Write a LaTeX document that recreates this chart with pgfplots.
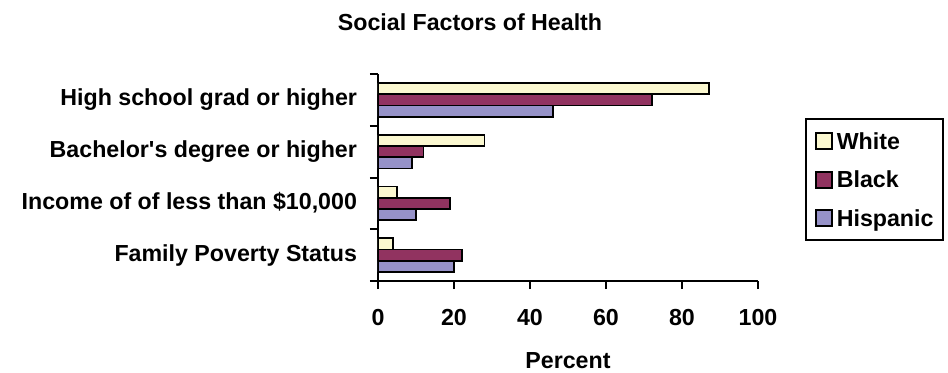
\documentclass[border=0pt]{standalone}
\usepackage{fontspec}
\setmainfont{Liberation Sans}
% separate family without TeX ligatures, so that ' stays a straight quote
\newfontfamily\arialfont{Liberation Sans}
\usepackage{pgfplots}
\pgfplotsset{compat=1.18}
\definecolor{cWhite}{HTML}{FBF8D0}
\definecolor{cBlack}{HTML}{913360}
\definecolor{cHisp}{HTML}{9692C8}
\newcommand\lbl{\arialfont\fontsize{11.6}{13.9}\selectfont\bfseries}

\begin{document}
\begin{tikzpicture}[x=1pt,y=1pt]
\useasboundingbox (0,0) rectangle (474,186);
\node[anchor=base, font=\lbl] at (235,171) {Social Factors of Health};
\begin{axis}[
  at={(189pt,45.5pt)}, anchor=south west,
  scale only axis, width=190pt, height=103.5pt,
  xbar, bar width=5.6pt,
  xmin=0, xmax=100, ymin=-0.5, ymax=3.5,
  axis x line*=bottom, axis y line*=left,
  axis line style={-, line width=1pt, black},
  /pgf/number format/assume math mode=true,
  tick label style={font=\lbl},
  xtick={0,20,...,100},
  tick align=outside, major tick length=4pt,
  tick style={line width=1pt, black},
  xticklabel style={anchor=base, yshift=-18pt},
  ytick={-0.5,0.5,1.5,2.5,3.5}, yticklabels={},
  extra y ticks={0,1,2,3},
  extra y tick labels={Family Poverty Status,{Income of of less than \$10,000},Bachelor's degree or higher,High school grad or higher},
  extra y tick style={major tick length=0pt,
    yticklabel style={anchor=base east, yshift=-2.95pt, xshift=-7pt}},
  xlabel={Percent},
  xlabel style={at={(rel axis cs:0.5,0)}, anchor=base, yshift=-43.5pt, font=\lbl},
  legend image code/.code={\draw[#1, line width=0.9pt] (0pt,-4pt) rectangle (8pt,4pt);},
  legend cell align=left,
  legend style={at={(rel axis cs:1.1237,0.7874)}, anchor=north west,
    draw=black, line width=1pt, inner xsep=4.5pt, inner ysep=6.6pt,
    row sep=10.4pt, column sep=2pt,
    nodes={inner sep=0pt, text height=8.2pt, text depth=0pt, font=\lbl}},
]
% top bar of each group
\addplot[fill=cWhite, draw=black, line width=0.9pt, bar shift=5.6pt]
  coordinates {(4,0) (5,1) (28,2) (87,3)};
\addplot[fill=cBlack, draw=black, line width=0.9pt, bar shift=0pt]
  coordinates {(22,0) (19,1) (12,2) (72,3)};
% bottom bar of each group
\addplot[fill=cHisp, draw=black, line width=0.9pt, bar shift=-5.6pt]
  coordinates {(20,0) (10,1) (9,2) (46,3)};
\legend{White, Black, Hispanic}
\end{axis}
\end{tikzpicture}
\end{document}
